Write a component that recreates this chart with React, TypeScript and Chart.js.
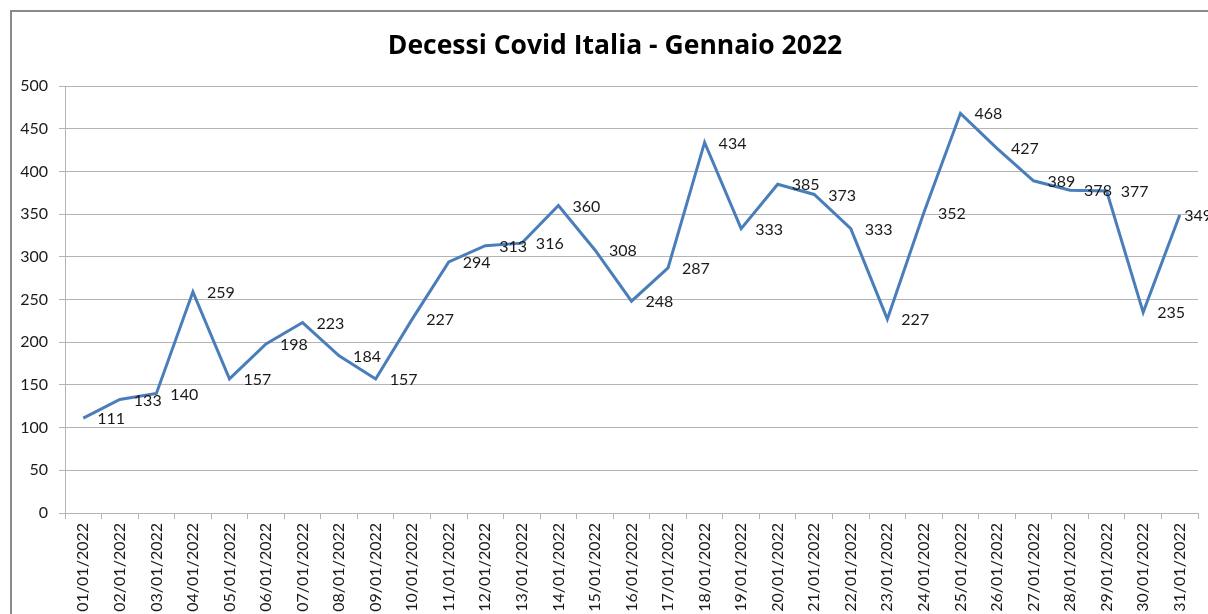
import React, { useEffect, useRef } from "react";
import { Chart, registerables } from "chart.js";

Chart.register(...registerables);

const TITLE = "Decessi Covid Italia - Gennaio 2022";

const dates = [
  "01/01/2022", "02/01/2022", "03/01/2022", "04/01/2022", "05/01/2022",
  "06/01/2022", "07/01/2022", "08/01/2022", "09/01/2022", "10/01/2022",
  "11/01/2022", "12/01/2022", "13/01/2022", "14/01/2022", "15/01/2022",
  "16/01/2022", "17/01/2022", "18/01/2022", "19/01/2022", "20/01/2022",
  "21/01/2022", "22/01/2022", "23/01/2022", "24/01/2022", "25/01/2022",
  "26/01/2022", "27/01/2022", "28/01/2022", "29/01/2022", "30/01/2022",
  "31/01/2022",
];

const deaths = [
  111, 133, 140, 259, 157, 198, 223, 184, 157, 227,
  294, 313, 316, 360, 308, 248, 287, 434, 333, 385,
  373, 333, 227, 352, 468, 427, 389, 378, 377, 235,
  349,
];

const Y_MIN = 0;
const Y_MAX = 500;
const Y_STEP = 50;

const FONT = "Lato, 'Open Sans', sans-serif";
const TITLE_FONT = "'Open Sans', Lato, sans-serif";
const TEXT = "#1a1a1a";
const GRID = "#b4b4b4";
const LINE = "#4a7ebb";

const CW = 1208;
const CH = 680;
const PLOT_RIGHT = 1198;
const LABEL_LIMIT = 1212;

const frame = {
  id: "frame",
  beforeDraw(chart: any) {
    const ctx = chart.ctx;
    ctx.save();
    ctx.fillStyle = "#ffffff";
    ctx.fillRect(0, 0, chart.width, chart.height);
    ctx.strokeStyle = "#8a8a8a";
    ctx.lineWidth = 2;
    ctx.beginPath();
    ctx.moveTo(11, chart.height);
    ctx.lineTo(11, 11);
    ctx.lineTo(chart.width + 10, 11);
    ctx.stroke();
    ctx.fillStyle = "#000000";
    ctx.font = `bold 26.5px ${TITLE_FONT}`;
    ctx.textAlign = "center";
    ctx.textBaseline = "middle";
    ctx.fillText(TITLE, 615, 46);
    ctx.restore();
  },
};

const valueLabels = {
  id: "valueLabels",
  afterDatasetsDraw(chart: any) {
    const ctx = chart.ctx;
    const meta = chart.getDatasetMeta(0);
    const data = chart.data.datasets[0].data;
    ctx.save();
    ctx.font = `16px ${FONT}`;
    ctx.fillStyle = TEXT;
    ctx.textAlign = "left";
    ctx.textBaseline = "middle";
    meta.data.forEach((pt: any, i: number) => {
      const txt = String(data[i]);
      const w = ctx.measureText(txt).width;
      const x = Math.min(pt.x + 14, LABEL_LIMIT - w);
      ctx.fillText(txt, x, pt.y + 1);
    });
    ctx.restore();
  },
};

export default function App() {
  const ref = useRef<HTMLCanvasElement | null>(null);

  useEffect(() => {
    let chart: Chart | null = null;
    let cancelled = false;
    const make = () => {
      if (cancelled || !ref.current) return;
      chart = new Chart(ref.current, {
        type: "line",
        data: {
          labels: dates,
          datasets: [
            {
              data: deaths,
              borderColor: LINE,
              backgroundColor: LINE,
              borderWidth: 3,
              pointRadius: 0,
              tension: 0,
              fill: false,
            },
          ],
        },
        options: {
          responsive: false,
          animation: false,
          devicePixelRatio: 1,
          layout: { padding: { left: 0, right: CW - PLOT_RIGHT, top: 86, bottom: 0 } },
          plugins: {
            legend: { display: false },
            tooltip: { enabled: false },
            title: { display: false },
          },
          scales: {
            x: {
              offset: true,
              grid: {
                offset: true,
                drawOnChartArea: false,
                drawTicks: true,
                tickLength: 6,
                color: GRID,
              },
              border: { display: true, color: GRID, width: 1 },
              ticks: {
                autoSkip: false,
                maxRotation: 90,
                minRotation: 90,
                padding: 4,
                color: TEXT,
                font: { family: FONT, size: 16 },
              },
              afterFit(scale: any) {
                scale.height = CH - 513;
              },
            },
            y: {
              min: Y_MIN,
              max: Y_MAX,
              ticks: {
                stepSize: Y_STEP,
                padding: 11,
                color: TEXT,
                font: { family: FONT, size: 16 },
              },
              grid: {
                color: GRID,
                lineWidth: 1,
                drawTicks: true,
                tickLength: 6,
              },
              border: { display: true, color: GRID, width: 1 },
              afterFit(scale: any) {
                scale.width = 65;
              },
            },
          },
        },
        plugins: [frame, valueLabels],
      });
    };
    const fontsReady = (document as any).fonts
      ? Promise.all([
          (document as any).fonts.load(`16px Lato`),
          (document as any).fonts.load(`bold 26px 'Open Sans'`),
        ]).catch(() => undefined)
      : Promise.resolve();
    fontsReady.then(make);
    return () => {
      cancelled = true;
      if (chart) chart.destroy();
    };
  }, []);

  return (
    <div
      style={{
        position: "absolute",
        left: 0,
        top: 0,
        width: 1208,
        height: 614,
        overflow: "hidden",
        background: "#ffffff",
      }}
    >
      <canvas
        ref={ref}
        width={CW}
        height={CH}
        style={{ display: "block", width: CW, height: CH }}
      />
    </div>
  );
}
